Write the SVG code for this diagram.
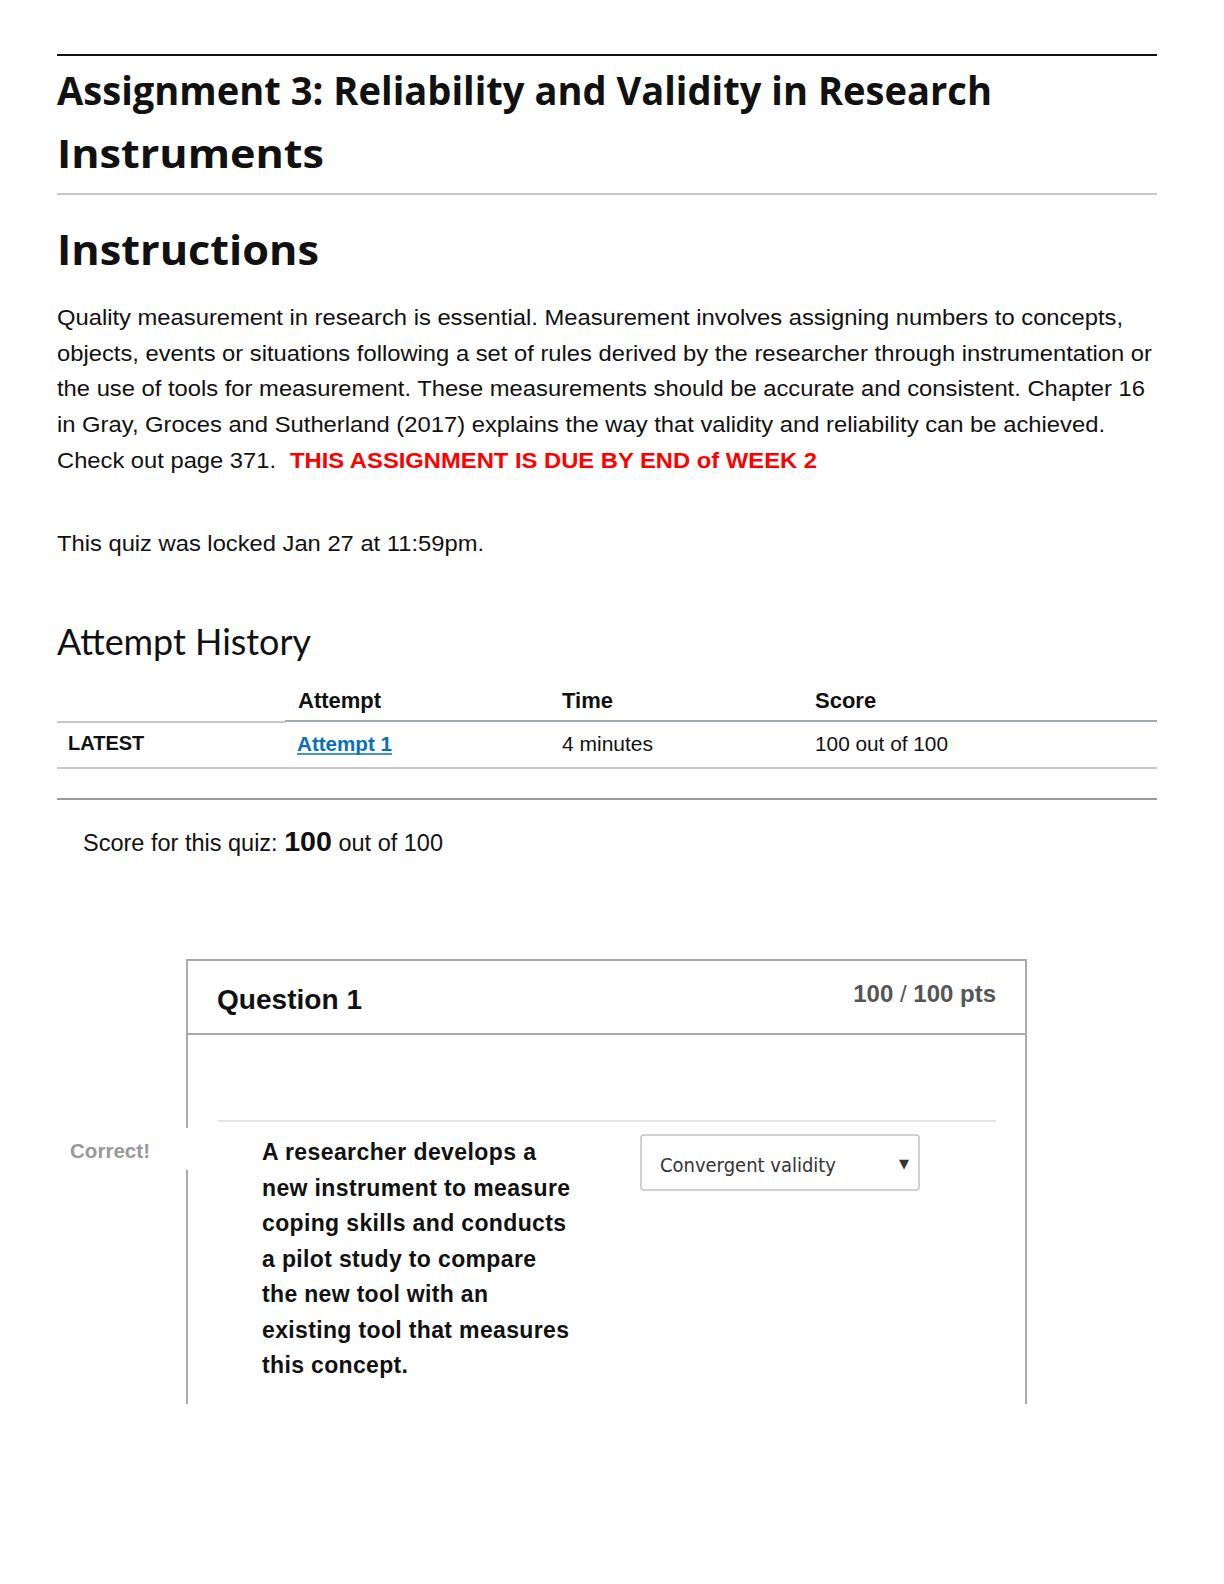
<svg xmlns="http://www.w3.org/2000/svg" width="1224" height="1584" viewBox="0 0 1224 1584">
<style>
.t{font-family:"Liberation Sans",Arial,sans-serif;fill:#111}
.h{font-family:"Open Sans","DejaVu Sans",sans-serif;font-weight:bold;fill:#111}
.b{font-weight:bold}
.ln{stroke:#c8c8c8;stroke-width:2}
</style>
<rect width="1224" height="1584" fill="#fff"/>
<line x1="57" y1="55" x2="1157" y2="55" stroke="#111" stroke-width="2"/>
<text class="h" x="57" y="105" font-size="40" textLength="935" lengthAdjust="spacingAndGlyphs">Assignment 3: Reliability and Validity in Research</text>
<text class="h" x="57" y="168" font-size="40" textLength="267" lengthAdjust="spacingAndGlyphs">Instruments</text>
<line class="ln" x1="57" y1="194" x2="1157" y2="194"/>
<text class="h" x="57" y="265" font-size="42" textLength="262" lengthAdjust="spacingAndGlyphs">Instructions</text>
<g class="t" font-size="22.5">
<text x="57" y="325" textLength="1066" lengthAdjust="spacingAndGlyphs">Quality measurement in research is essential. Measurement involves assigning numbers to concepts,</text>
<text x="57" y="361" textLength="1095" lengthAdjust="spacingAndGlyphs">objects, events or situations following a set of rules derived by the researcher through instrumentation or</text>
<text x="57" y="396" textLength="1088" lengthAdjust="spacingAndGlyphs">the use of tools for measurement. These measurements should be accurate and consistent. Chapter 16</text>
<text x="57" y="432" textLength="1048" lengthAdjust="spacingAndGlyphs">in Gray, Groces and Sutherland (2017) explains the way that validity and reliability can be achieved.</text>
<text x="57" y="468" textLength="219" lengthAdjust="spacingAndGlyphs">Check out page 371.</text>
<text x="290" y="468" class="b" style="fill:#f00" textLength="527" lengthAdjust="spacingAndGlyphs">THIS ASSIGNMENT IS DUE BY END of WEEK 2</text>
<text x="57" y="551" textLength="427" lengthAdjust="spacingAndGlyphs">This quiz was locked Jan 27 at 11:59pm.</text>
</g>
<text x="57" y="655" font-family="Lato,'Open Sans',sans-serif" font-size="36" fill="#111" textLength="254" lengthAdjust="spacingAndGlyphs">Attempt History</text>
<g class="t" font-size="22">
<text x="298" y="708" class="b">Attempt</text>
<text x="562" y="708" class="b">Time</text>
<text x="815" y="708" class="b">Score</text>
<text x="68" y="750" class="b" font-size="20">LATEST</text>
<text x="297" y="751" class="b" style="fill:#0770b8" font-size="20" textLength="95" lengthAdjust="spacingAndGlyphs">Attempt 1</text>
<line x1="297" y1="754" x2="392" y2="754" stroke="#0770b8" stroke-width="1.5"/>
<text x="562" y="751" font-size="20" textLength="91" lengthAdjust="spacingAndGlyphs">4 minutes</text>
<text x="815" y="751" font-size="20" textLength="133" lengthAdjust="spacingAndGlyphs">100 out of 100</text>
</g>
<line x1="285" y1="721" x2="1157" y2="721" stroke="#a0a8b0" stroke-width="2"/>
<line x1="57" y1="722" x2="285" y2="722" class="ln"/>
<line class="ln" x1="57" y1="768" x2="1157" y2="768"/>
<line x1="57" y1="799" x2="1157" y2="799" stroke="#999" stroke-width="2"/>
<text class="t" x="83" y="851" font-size="23" textLength="360" lengthAdjust="spacingAndGlyphs">Score for this quiz: <tspan class="b" font-size="28">100</tspan> out of 100</text>
<g id="question1">
<rect x="187" y="960" width="839" height="74" fill="#fff" stroke="#aaa" stroke-width="2"/>
<line x1="187" y1="1034" x2="187" y2="1128" stroke="#aaa" stroke-width="2"/>
<line x1="187" y1="1170" x2="187" y2="1404" stroke="#aaa" stroke-width="2"/>
<line x1="1026" y1="1034" x2="1026" y2="1404" stroke="#aaa" stroke-width="2"/>
<text class="t b" x="217" y="1009" font-size="27" textLength="145" lengthAdjust="spacingAndGlyphs">Question 1</text>
<text class="t b" x="996" y="1002" font-size="24" text-anchor="end" style="fill:#555">100 <tspan font-weight="normal">/</tspan> 100 pts</text>
<line x1="218" y1="1121" x2="996" y2="1121" stroke="#ddd" stroke-width="1.5"/>
<text class="t b" x="70" y="1158" font-size="20" style="fill:#999" textLength="80" lengthAdjust="spacingAndGlyphs">Correct!</text>
<g class="t b" font-size="23" lengthAdjust="spacingAndGlyphs">
<text x="262" y="1160" textLength="274">A researcher develops a</text>
<text x="262" y="1196" textLength="308">new instrument to measure</text>
<text x="262" y="1231" textLength="304">coping skills and conducts</text>
<text x="262" y="1267" textLength="274">a pilot study to compare</text>
<text x="262" y="1302" textLength="226">the new tool with an</text>
<text x="262" y="1338" textLength="307">existing tool that measures</text>
<text x="262" y="1373" textLength="146">this concept.</text>
</g>
<rect x="641" y="1135" width="278" height="55" rx="3" fill="#fff" stroke="#c4c4c4" stroke-width="1.5"/>
<text x="660" y="1172" font-family="'DejaVu Sans',sans-serif" font-size="20" fill="#333" textLength="176" lengthAdjust="spacingAndGlyphs">Convergent validity</text>
<text x="899" y="1168" font-family="'DejaVu Sans',sans-serif" font-size="13" fill="#333">▼</text>
</g>
</svg>
